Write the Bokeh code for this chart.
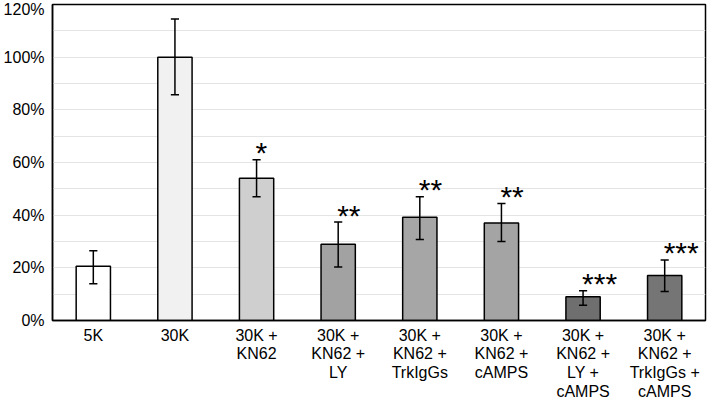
from bokeh.plotting import figure
from bokeh.models import FixedTicker, PrintfTickFormatter, Range1d, ColumnDataSource
from bokeh.core.properties import value
from bokeh.embed import file_html
from bokeh.resources import INLINE

labels = ["5K", "30K", "30K +\nKN62", "30K +\nKN62 +\nLY", "30K +\nKN62 +\nTrkIgGs",
          "30K +\nKN62 +\ncAMPS", "30K +\nKN62 +\nLY +\ncAMPS", "30K +\nKN62 +\nTrkIgGs +\ncAMPS"]
means = [20.6, 100.0, 54.0, 29.0, 39.2, 37.0, 9.0, 17.1]
err_hi = [26.5, 114.5, 61.0, 37.4, 47.0, 44.4, 11.3, 23.0]
err_lo = [14.0, 85.7, 47.0, 20.3, 30.8, 30.0, 5.8, 11.0]
stars = ["", "", "*", "**", "**", "**", "***", "***"]
colors = ["#ffffff", "#f1f1f1", "#cfcfcf", "#a2a2a2", "#a6a6a6", "#a4a4a4", "#6f6f6f", "#757575"]

FONT = "Liberation Sans"
x = [i + 0.5 for i in range(len(labels))]

p = figure(width=707, height=402, output_backend="svg", toolbar_location=None,
           x_range=Range1d(0, len(labels)), y_range=Range1d(0, 120),
           min_border_left=49, min_border_right=2, min_border_top=4, min_border_bottom=70)

p.outline_line_color = "black"
p.outline_line_width = 1.5
p.outline_line_alpha = 1.0

src = ColumnDataSource(dict(x=x, top=means, hi=err_hi, lo=err_lo, color=colors, star=stars))

p.vbar(x="x", top="top", width=0.42, bottom=0, fill_color="color",
       line_color="black", line_width=1.5, source=src)
p.segment(x0="x", y0="lo", x1="x", y1="hi", line_color="black", line_width=1.5, source=src)
cap = 0.05
p.segment(x0=[v - cap for v in x], y0=err_hi, x1=[v + cap for v in x], y1=err_hi,
          line_color="black", line_width=1.5)
p.segment(x0=[v - cap for v in x], y0=err_lo, x1=[v + cap for v in x], y1=err_lo,
          line_color="black", line_width=1.5)

p.text(x="x", y="hi", text="star", source=src, text_font=value(FONT), text_font_size="30px",
       text_align="left", text_baseline="middle", y_offset=-7, x_offset=-1, text_color="black")

p.xgrid.visible = False
p.ygrid.ticker = FixedTicker(ticks=list(range(0, 121, 10)))
p.ygrid.grid_line_color = "#e4e4e4"
p.ygrid.grid_line_width = 1

p.yaxis.ticker = FixedTicker(ticks=list(range(0, 121, 20)))
p.yaxis.formatter = PrintfTickFormatter(format="%d%%")
p.xaxis.ticker = FixedTicker(ticks=x)
p.xaxis.major_label_overrides = {v: lab for v, lab in zip(x, labels)}
for ax in (p.xaxis, p.yaxis):
    ax.major_tick_line_color = None
    ax.minor_tick_line_color = None
    ax.major_tick_in = 0
    ax.major_tick_out = 0
    ax.axis_line_color = "black"
    ax.axis_line_width = 1.5
    ax.major_label_text_font = FONT
    ax.major_label_text_color = "black"
p.yaxis.major_label_text_font_size = "16px"
p.xaxis.major_label_text_font_size = "16px"
p.xaxis.major_label_text_line_height = 1.1
p.yaxis.major_label_standoff = 8
p.xaxis.major_label_standoff = 6

open("out.html", "w").write(file_html(p, INLINE))
